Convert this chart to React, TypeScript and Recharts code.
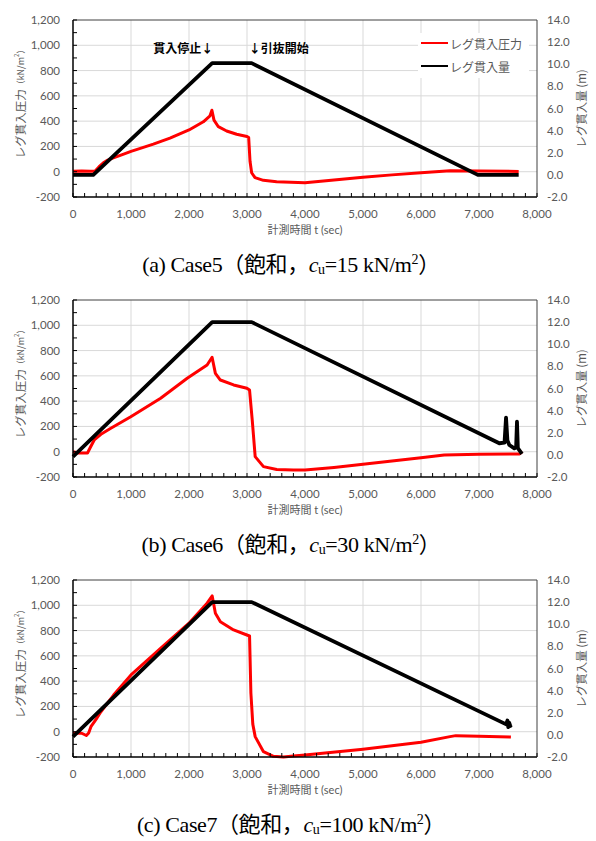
import React from "react";
import {
  LineChart,
  Line,
  XAxis,
  YAxis,
  CartesianGrid,
  ReferenceLine,
  ReferenceDot,
  Legend,
} from "recharts";

const FONT = "Lato, 'Noto Sans CJK JP', sans-serif";
const JP_FONT = "'Noto Sans CJK JP', sans-serif";
const SERIF = "'Liberation Serif', 'Noto Sans CJK JP', serif";
const AXIS_GREY = "#595959";
const GRID_GREY = "#d9d9d9";
const RED = "#ff0000";
const BLACK = "#000000";

// axes
const X_TICKS = [0, 1000, 2000, 3000, 4000, 5000, 6000, 7000, 8000];
const X_MINOR = [
  0, 200, 400, 600, 800, 1000, 1200, 1400, 1600, 1800, 2000, 2200, 2400, 2600,
  2800, 3000, 3200, 3400, 3600, 3800, 4000, 4200, 4400, 4600, 4800, 5000, 5200,
  5400, 5600, 5800, 6000, 6200, 6400, 6600, 6800, 7000, 7200, 7400, 7600, 7800,
  8000,
];
const X_GRID = [1000, 2000, 3000, 4000, 5000, 6000, 7000];
const P_TICKS = [-200, 0, 200, 400, 600, 800, 1000, 1200];
const P_MINOR = [
  -200, -100, 0, 100, 200, 300, 400, 500, 600, 700, 800, 900, 1000, 1100, 1200,
];
const P_GRID = [0, 200, 400, 600, 800, 1000];
const D_TICKS = [-2, 0, 2, 4, 6, 8, 10, 12, 14];

const LEGEND_NAMES = ["レグ貫入圧力", "レグ貫入量"];
const LEGEND_COLORS = [RED, BLACK];

// Case5 (cu = 15)
const C5_P_T = [0, 150, 300, 379, 450, 523, 600, 695, 850, 1000, 1200, 1385, 1672, 2000, 2247, 2362, 2395, 2431, 2506, 2649, 2822, 3000, 3029, 3052, 3080, 3138, 3282, 3511, 4000, 4500, 5000, 5500, 6000, 6500, 7000, 7684];
const C5_P_V = [3, 5, 3, 3, 40, 70, 92, 109, 135, 161, 190, 218, 265, 330, 395, 442, 486, 408, 356, 322, 296, 278, 270, 83, -8, -47, -68, -80, -88, -65, -44, -25, -8, 8, 6, 2];
const C5_D_T = [0, 350, 2400, 3080, 6980, 7684];
const C5_D_V = [0, 0, 10.1, 10.1, 0, 0];

// Case6 (cu = 30)
const C6_P_T = [0, 100, 250, 300, 366, 481, 652, 996, 1511, 1969, 2312, 2398, 2455, 2541, 2769, 2998, 3044, 3090, 3141, 3284, 3513, 3800, 4000, 4500, 5000, 5500, 6000, 6400, 7000, 7700, 7745];
const C6_P_V = [0, -10, -10, 35, 93, 138, 185, 277, 423, 581, 686, 747, 620, 567, 528, 502, 488, 251, -39, -118, -140, -145, -145, -124, -100, -73, -47, -26, -20, -18, 0];
const C6_D_T = [0, 2400, 3081, 7350, 7440, 7466, 7490, 7523, 7609, 7640, 7655, 7670, 7741];
const C6_D_V = [-0.15, 12.0, 12.0, 1.05, 1.1, 3.36, 1.3, 0.89, 0.59, 0.7, 3.0, 0.6, 0.1];

// Case7 (cu = 100)
const C7_P_T = [0, 150, 230, 270, 309, 400, 481, 700, 1000, 1500, 2000, 2300, 2400, 2455, 2541, 2769, 2998, 3044, 3067, 3100, 3141, 3284, 3456, 3628, 3800, 4000, 5000, 6000, 6500, 6600, 7000, 7550];
const C7_P_V = [-10, -12, -30, -10, 40, 100, 158, 290, 449, 655, 858, 1010, 1074, 937, 870, 805, 765, 757, 306, 60, -39, -158, -195, -200, -192, -184, -139, -84, -39, -31, -36, -42];
const C7_D_T = [0, 2400, 3081, 7470, 7490, 7505, 7520, 7540, 7555];
const C7_D_V = [-0.15, 12.0, 12.0, 0.95, 1.3, 0.7, 1.1, 0.8, 0.9];

const zip = (t: number[], v: number[]) => t.map((x, i) => ({ t: x, v: v[i] }));

const PANELS = [
  { tag: "a", name: "Case5", cu: "15", p: zip(C5_P_T, C5_P_V), d: zip(C5_D_T, C5_D_V), first: true },
  { tag: "b", name: "Case6", cu: "30", p: zip(C6_P_T, C6_P_V), d: zip(C6_D_T, C6_D_V), first: false },
  { tag: "c", name: "Case7", cu: "100", p: zip(C7_P_T, C7_P_V), d: zip(C7_D_T, C7_D_V), first: false },
];

const X_MARGIN = 12;
const Y_MARGIN = 13;
const R_MARGIN = 10;

const comma = (v: number) => v.toLocaleString("en-US");

const XTick = (props: any) => {
  const { x, y, payload } = props;
  const v = payload.value;
  const axisY = y - X_MARGIN;
  return (
    <g>
      <line x1={x} x2={x} y1={axisY} y2={axisY - 4} stroke={BLACK} strokeWidth={1} />
      {X_TICKS.includes(v) && (
        <text x={x} y={y} dy={9} textAnchor="middle" fill={AXIS_GREY} fontSize={11.5} fontFamily={FONT}>
          {comma(v)}
        </text>
      )}
    </g>
  );
};

const LeftTick = (props: any) => {
  const { x, y, payload } = props;
  const v = payload.value;
  const axisX = x + Y_MARGIN;
  return (
    <g>
      <line x1={axisX} x2={axisX + 4} y1={y} y2={y} stroke={BLACK} strokeWidth={1} />
      {P_TICKS.includes(v) && (
        <text x={x} y={y} dy={4} textAnchor="end" fill={AXIS_GREY} fontSize={11.5} fontFamily={FONT}>
          {comma(v)}
        </text>
      )}
    </g>
  );
};

const RightTick = (props: any) => {
  const { x, y, payload } = props;
  return (
    <text x={x} y={y} dy={4} textAnchor="start" fill={AXIS_GREY} fontSize={11.5} fontFamily={FONT}>
      {payload.value.toFixed(1)}
    </text>
  );
};

const LeftLabel = (props: any) => {
  const { viewBox } = props;
  const cx = viewBox.x + 20;
  const cy = viewBox.y + viewBox.height / 2 - 7;
  return (
    <text
      x={cx}
      y={cy}
      transform={`rotate(-90, ${cx}, ${cy})`}
      textAnchor="middle"
      dominantBaseline="central"
      fill={AXIS_GREY}
      fontFamily={JP_FONT}
    >
      <tspan fontSize={11.5}>レグ貫入圧力</tspan>
      <tspan fontSize={9}>（kN/m</tspan>
      <tspan fontSize={6} dy={-4}>2</tspan>
      <tspan fontSize={9} dy={4}>）</tspan>
    </text>
  );
};

const RightLabel = (props: any) => {
  const { viewBox } = props;
  const cx = viewBox.x + viewBox.width - 15;
  const cy = viewBox.y + viewBox.height / 2;
  return (
    <text
      x={cx}
      y={cy}
      transform={`rotate(-90, ${cx}, ${cy})`}
      textAnchor="middle"
      dominantBaseline="central"
      fill={AXIS_GREY}
      fontFamily={JP_FONT}
      fontSize={11.5}
    >
      レグ貫入量 (m)
    </text>
  );
};

const LegendBox = () => (
  <div
    style={{
      width: 111,
      height: 45,
      background: "#fff",
      position: "relative",
      fontFamily: JP_FONT,
      fontSize: 12,
      color: AXIS_GREY,
    }}
  >
    {LEGEND_NAMES.map((name, i) => (
      <div
        key={name}
        style={{
          position: "absolute",
          left: 3,
          top: i === 0 ? 2 : 25,
          height: 16,
          display: "flex",
          alignItems: "center",
          whiteSpace: "nowrap",
        }}
      >
        <span style={{ display: "inline-block", width: 27, height: 2, background: LEGEND_COLORS[i] }} />
        <span style={{ marginLeft: 2 }}>{name}</span>
      </div>
    ))}
  </div>
);

const Caption = ({ tag, name, cu }: { tag: string; name: string; cu: string }) => (
  <div
    style={{
      position: "absolute",
      top: 252,
      left: 0,
      width: 582,
      textAlign: "center",
      fontFamily: SERIF,
      fontSize: 22,
      letterSpacing: -0.4,
      lineHeight: "26px",
      color: "#000",
      whiteSpace: "nowrap",
    }}
  >
    ({tag}) {name}（飽和，<i>c</i>
    <span style={{ fontSize: 14, position: "relative", top: 2 }}>u</span>={cu} kN/m
    <span style={{ fontSize: 14, position: "relative", top: -8 }}>2</span>）
  </div>
);

const Panel = ({ panel }: { panel: (typeof PANELS)[number] }) => (
  <LineChart width={596} height={240} margin={{ top: 20, right: 0, bottom: 0, left: 0 }}>
    <CartesianGrid
      yAxisId="left"
      stroke={GRID_GREY}
      strokeWidth={1}
      horizontalValues={P_GRID}
      verticalValues={X_GRID}
    />
    <XAxis
      type="number"
      dataKey="t"
      domain={[0, 8000]}
      ticks={X_MINOR}
      interval={0}
      tickSize={0}
      tickMargin={X_MARGIN}
      tickLine={false}
      tick={(p: any) => <XTick {...p} />}
      axisLine={{ stroke: BLACK, strokeWidth: 1.5 }}
      height={43}
      label={{
        value: "計測時間 t (sec)",
        position: "insideBottom",
        offset: 6,
        fill: AXIS_GREY,
        fontSize: 11,
        fontFamily: FONT,
      }}
    />
    <YAxis
      yAxisId="left"
      type="number"
      domain={[-200, 1200]}
      ticks={P_MINOR}
      interval={0}
      tickSize={0}
      tickMargin={Y_MARGIN}
      tickLine={false}
      tick={(p: any) => <LeftTick {...p} />}
      axisLine={{ stroke: BLACK, strokeWidth: 1.5 }}
      width={73}
      label={{ content: (p: any) => <LeftLabel {...p} /> }}
    />
    <YAxis
      yAxisId="right"
      orientation="right"
      type="number"
      domain={[-2, 14]}
      ticks={D_TICKS}
      interval={0}
      tickSize={0}
      tickMargin={R_MARGIN}
      tickLine={false}
      tick={(p: any) => <RightTick {...p} />}
      axisLine={{ stroke: "#404040", strokeWidth: 1 }}
      width={59}
      label={{ content: (p: any) => <RightLabel {...p} /> }}
    />
    <ReferenceLine yAxisId="left" y={1200} stroke="#404040" strokeWidth={1} />
    <Line
      yAxisId="left"
      data={panel.p}
      dataKey="v"
      name={LEGEND_NAMES[0]}
      stroke={RED}
      strokeWidth={3}
      strokeLinejoin="round"
      dot={false}
      isAnimationActive={false}
    />
    <Line
      yAxisId="right"
      data={panel.d}
      dataKey="v"
      name={LEGEND_NAMES[1]}
      stroke={BLACK}
      strokeWidth={3.8}
      strokeLinejoin="round"
      dot={false}
      isAnimationActive={false}
    />
    {panel.first && (
      <ReferenceDot
        yAxisId="left"
        x={2400}
        y={970}
        r={0}
        label={{
          value: "貫入停止↓",
          position: "left",
          offset: -1,
          fill: "#000",
          fontSize: 12,
          fontWeight: "bold",
          fontFamily: JP_FONT,
        }}
      />
    )}
    {panel.first && (
      <ReferenceDot
        yAxisId="left"
        x={3100}
        y={970}
        r={0}
        label={{
          value: "↓引抜開始",
          position: "right",
          offset: -4,
          fill: "#000",
          fontSize: 12,
          fontWeight: "bold",
          fontFamily: JP_FONT,
        }}
      />
    )}
    {panel.first && (
      <Legend
        layout="vertical"
        align="center"
        verticalAlign="middle"
        width={111}
        height={45}
        wrapperStyle={{ left: 418, top: 33, width: 111, height: 45 }}
        content={() => <LegendBox />}
      />
    )}
  </LineChart>
);

export default function App() {
  return (
    <div
      style={{
        position: "absolute",
        left: 0,
        top: 0,
        width: 596,
        height: 841,
        background: "#fff",
      }}
    >
      {PANELS.map((panel, i) => (
        <div key={panel.tag} style={{ position: "absolute", left: 0, top: i * 280, width: 596, height: 280 }}>
          <Panel panel={panel} />
          <Caption tag={panel.tag} name={panel.name} cu={panel.cu} />
        </div>
      ))}
    </div>
  );
}
